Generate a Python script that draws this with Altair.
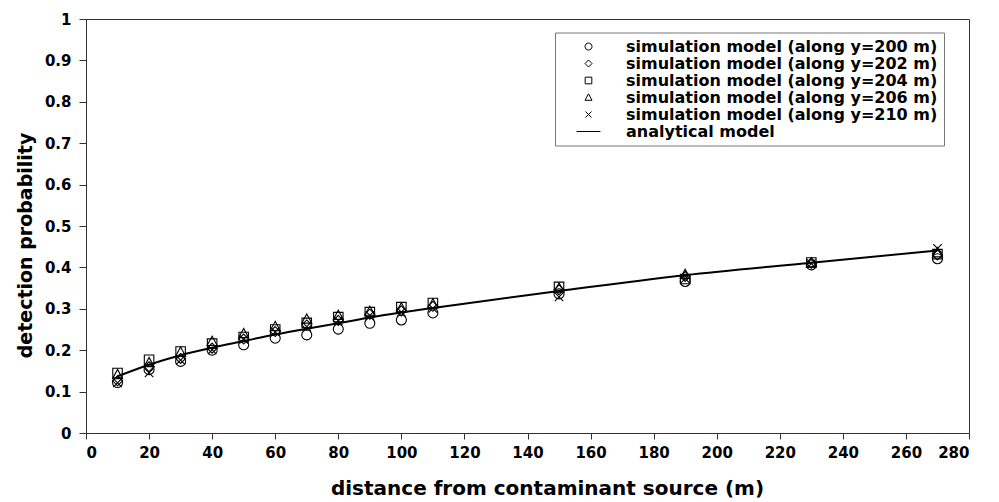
import altair as alt
import pandas as pd

distance = [10, 20, 30, 40, 50, 60, 70, 80, 90, 100, 110, 150, 190, 230, 270]

sim_y200 = [0.122, 0.153, 0.173, 0.200, 0.213, 0.229, 0.237, 0.251, 0.265, 0.273, 0.290, 0.336, 0.366, 0.406, 0.421]
sim_y202 = [0.126, 0.160, 0.180, 0.205, 0.227, 0.245, 0.261, 0.272, 0.287, 0.295, 0.306, 0.346, 0.378, 0.410, 0.430]
sim_y204 = [0.145, 0.177, 0.197, 0.216, 0.232, 0.250, 0.266, 0.280, 0.292, 0.304, 0.314, 0.353, 0.372, 0.412, 0.432]
sim_y206 = [0.141, 0.170, 0.195, 0.221, 0.240, 0.257, 0.275, 0.284, 0.294, 0.302, 0.312, 0.350, 0.383, 0.411, 0.435]
sim_y210 = [0.121, 0.145, 0.176, 0.201, 0.226, 0.244, 0.257, 0.271, 0.284, 0.292, 0.301, 0.329, 0.373, 0.409, 0.446]
analytical = [0.137, 0.165, 0.188, 0.206, 0.222, 0.238, 0.252, 0.265, 0.279, 0.291, 0.302, 0.343, 0.381, 0.411, 0.441]

series_names = [
    "simulation model (along y=200 m)",
    "simulation model (along y=202 m)",
    "simulation model (along y=204 m)",
    "simulation model (along y=206 m)",
    "simulation model (along y=210 m)",
    "analytical model",
]

x_ticks = [0, 20, 40, 60, 80, 100, 120, 140, 160, 180, 200, 220, 240, 260, 280]
y_ticks = [0, 0.1, 0.2, 0.3, 0.4, 0.5, 0.6, 0.7, 0.8, 0.9, 1]

shape_paths = [
    "M1,0A1,1,0,1,1,-1,0A1,1,0,1,1,1,0Z",
    "M0,-1L1,0L0,1L-1,0Z",
    "M-0.95,-0.95L0.95,-0.95L0.95,0.95L-0.95,0.95Z",
    "M0,-1.05L1,0.8L-1,0.8Z",
    "M-0.85,-0.85L0.85,0.85M-0.85,0.85L0.85,-0.85",
    "M-3.4,0L3.4,0",
]

rows = []
for name, vals in zip(series_names[:5], [sim_y200, sim_y202, sim_y204, sim_y206, sim_y210]):
    for d, v in zip(distance, vals):
        rows.append({"distance": d, "prob": v, "series": name})
sim_df = pd.DataFrame(rows)
line_df = pd.DataFrame({"distance": distance, "prob": analytical})

FONT = "DejaVu Sans"

x_enc = alt.X(
    "distance:Q",
    scale=alt.Scale(domain=[0, 280], nice=False, zero=False),
    axis=alt.Axis(
        values=x_ticks,
        title="distance from contaminant source (m)",
        titleX=461,
        titleY=61,
        titleBaseline="alphabetic",
        tickSize=6,
        labelPadding=6,
        format="d",
    ),
)
y_enc = alt.Y(
    "prob:Q",
    scale=alt.Scale(domain=[0, 1], nice=False),
    axis=alt.Axis(
        values=y_ticks,
        title="detection probability",
        titleX=-55,
        titleY=226,
        titleBaseline="alphabetic",
        tickSize=7,
        labelPadding=8,
        format="~g",
    ),
)

line = alt.Chart(line_df).mark_line(
    color="black", strokeWidth=2, interpolate="monotone"
).encode(x=x_enc, y=y_enc)

points = alt.Chart(sim_df).mark_point(
    filled=False, color="black", size=100, strokeWidth=1.1, opacity=1
).encode(
    x=x_enc,
    y=y_enc,
    shape=alt.Shape(
        "series:N",
        scale=alt.Scale(domain=series_names, range=shape_paths),
        legend=alt.Legend(
            title=None,
            orient="none",
            legendX=469,
            legendY=13.5,
            padding=6,
            strokeColor="#777777",
            fillColor="white",
            symbolSize=49,
            symbolStrokeWidth=1,
            symbolStrokeColor="black",
            symbolOffset=19.5,
            labelOffset=29.5,
            labelFont=FONT,
            labelFontSize=16,
            labelFontWeight="bold",
            labelColor="black",
            labelLimit=500,
            rowPadding=1,
        ),
    ),
)

chart = (
    alt.layer(line, points)
    .properties(
        width=883,
        height=414,
        autosize=alt.AutoSizeParams(type="none"),
        padding={"left": 86, "top": 19, "right": 30, "bottom": 69},
    )
    .configure_view(stroke="#333333", strokeWidth=1)
    .configure_axis(
        grid=False,
        domainColor="#333333",
        tickColor="#333333",
        labelFont=FONT,
        labelFontSize=15,
        labelFontWeight="bold",
        labelColor="black",
        titleFont=FONT,
        titleFontSize=20,
        titleFontWeight="bold",
        titleColor="black",
    )
    .configure_axisY(titleFontSize=19)
)

chart.save("out.html", embed_options={"renderer": "svg", "actions": False})
